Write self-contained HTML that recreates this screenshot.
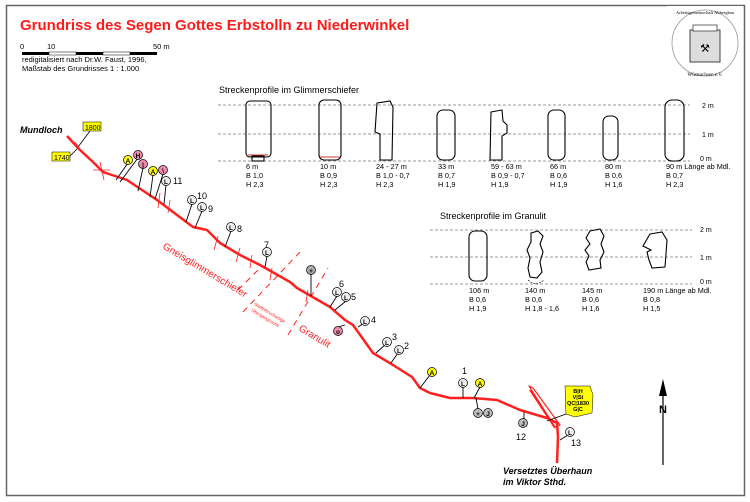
<!DOCTYPE html>
<html><head><meta charset="utf-8"><style>
body{margin:0;background:#fff}
svg{display:block;font-family:"Liberation Sans",Arial,sans-serif}
</style></head><body>
<svg width="750" height="502" viewBox="0 0 750 502" xmlns="http://www.w3.org/2000/svg">
<rect x="0" y="0" width="750" height="502" fill="#fff"/>
<rect x="6.5" y="5.5" width="738" height="490" fill="none" stroke="#666" stroke-width="1.5"/>
<text x="20" y="30" fill="#ff1a1a" font-size="15" font-weight="bold">Grundriss des Segen Gottes Erbstolln zu Niederwinkel</text>
<text x="20" y="49" font-size="7.5">0</text><text x="47" y="49" font-size="7.5">10</text><text x="153" y="49" font-size="7.5">50 m</text>
<rect x="22" y="52" width="27" height="3" fill="#000"/><rect x="49" y="52" width="27" height="3" fill="#fff" stroke="#000" stroke-width=".5"/>
<rect x="76" y="52" width="27" height="3" fill="#000"/><rect x="103" y="52" width="27" height="3" fill="#fff" stroke="#000" stroke-width=".5"/>
<rect x="130" y="52" width="27" height="3" fill="#000"/>
<text x="22" y="62" font-size="7.5">redigitalisiert nach Dr.W. Faust, 1996,</text>
<text x="22" y="71" font-size="7.5">Maßstab des Grundrisses 1 : 1.000</text>
<!-- seal -->
<rect x="667" y="6" width="76" height="76" fill="#fff"/>
<circle cx="705" cy="43" r="33" fill="none" stroke="#999" stroke-width=".8"/>
<rect x="690" y="30" width="30" height="32" fill="#ddd" stroke="#444" stroke-width="1"/>
<rect x="693" y="25" width="24" height="6" fill="#fff" stroke="#444" stroke-width=".8"/>
<text x="705" y="52" font-size="11" text-anchor="middle">⚒</text>
<text x="705" y="76" font-size="5" text-anchor="middle" font-family="Liberation Serif">Wüstsachsen e.V.</text>
<text x="705" y="14" font-size="4.5" text-anchor="middle" font-family="Liberation Serif">Arbeitsgemeinschaft Altbergbau</text>
<!-- Glimmerschiefer profiles -->
<text x="219" y="93" font-size="9">Streckenprofile im Glimmerschiefer</text>
<g stroke="#777" stroke-dasharray="3,2" stroke-width=".8">
<line x1="218" y1="105" x2="690" y2="105"/><line x1="218" y1="134" x2="690" y2="134"/><line x1="218" y1="161" x2="690" y2="161"/>
<line x1="430" y1="230" x2="692" y2="230"/><line x1="430" y1="257" x2="692" y2="257"/><line x1="430" y1="284" x2="692" y2="284"/></g>
<g font-size="7"><text x="702" y="108">2 m</text><text x="702" y="137">1 m</text><text x="700" y="161">0 m</text>
<text x="700" y="232">2 m</text><text x="700" y="260">1 m</text><text x="700" y="284">0 m</text></g>
<g fill="none" stroke="#000" stroke-width="1.1">
<rect x="246" y="101" width="25" height="56" rx="4"/><rect x="252" y="156" width="12" height="5"/>
<rect x="319" y="100" width="22" height="60" rx="5"/>
<path d="M377 103 L390 101 L393 107 L392 160 L380 160 L380 134 L375 132 Z"/>
<rect x="437" y="110" width="18" height="50" rx="6"/>
<path d="M491 112 L502 110 L503 121 L507 125 L507 133 L502 136 L502 160 L490 160 Z"/>
<rect x="548" y="110" width="17" height="50" rx="6"/>
<rect x="603" y="116" width="15" height="44" rx="6"/>
<rect x="665" y="100" width="19" height="61" rx="7"/>
</g>
<line x1="248" y1="155" x2="268" y2="155" stroke="#c33" stroke-width="1"/>
<line x1="320" y1="157" x2="340" y2="157" stroke="#c33" stroke-width="1"/>
<g font-size="7.3">
<text x="246" y="169">6 m</text><text x="246" y="178">B 1,0</text><text x="246" y="187">H 2,3</text>
<text x="320" y="169">10 m</text><text x="320" y="178">B 0,9</text><text x="320" y="187">H 2,3</text>
<text x="376" y="169">24 - 27 m</text><text x="376" y="178">B 1,0 - 0,7</text><text x="376" y="187">H 2,3</text>
<text x="438" y="169">33 m</text><text x="438" y="178">B 0,7</text><text x="438" y="187">H 1,9</text>
<text x="491" y="169">59 - 63 m</text><text x="491" y="178">B 0,9 - 0,7</text><text x="491" y="187">H 1,9</text>
<text x="550" y="169">66 m</text><text x="550" y="178">B 0,6</text><text x="550" y="187">H 1,9</text>
<text x="605" y="169">80 m</text><text x="605" y="178">B 0,6</text><text x="605" y="187">H 1,6</text>
<text x="666" y="169">90 m Länge ab Mdl.</text><text x="666" y="178">B 0,7</text><text x="666" y="187">H 2,3</text>
</g>
<!-- Granulit -->
<text x="440" y="219" font-size="9">Streckenprofile im Granulit</text>
<g fill="none" stroke="#000" stroke-width="1.1">
<rect x="469" y="231" width="18" height="50" rx="6"/>
<path d="M531 233 L538 231 L543 236 L540 244 L543 252 L540 262 L542 272 L537 278 L530 277 L528 268 L530 258 L527 250 L531 242 Z"/>
<path d="M590 231 L600 229 L604 236 L601 244 L604 252 L600 260 L601 268 L589 270 L586 262 L589 256 L585 250 L590 244 L586 238 Z"/>
<path d="M650 234 L662 232 L667 240 L666 254 L665 267 L652 268 L649 260 L647 252 L651 250 L643 246 Z"/>
</g>
<path d="M528 280 Q536 287 544 280" fill="none" stroke="#000" stroke-dasharray="2,1" stroke-width=".6"/>
<g font-size="7.3">
<text x="469" y="293">106 m</text><text x="469" y="302">B 0,6</text><text x="469" y="311">H 1,9</text>
<text x="525" y="293">140 m</text><text x="525" y="302">B 0,6</text><text x="525" y="311">H 1,8 - 1,6</text>
<text x="582" y="293">145 m</text><text x="582" y="302">B 0,6</text><text x="582" y="311">H 1,6</text>
<text x="643" y="293">190 m Länge ab Mdl.</text><text x="643" y="302">B 0,8</text><text x="643" y="311">H 1,5</text>
</g>
<!-- Mundloch -->
<text x="20" y="133" font-size="9" font-weight="bold" font-style="italic">Mundloch</text>
<rect x="83" y="122" width="18" height="9" fill="#ff0" stroke="#000" stroke-width=".5"/><text x="85" y="130" font-size="7">1800</text>
<rect x="52" y="152" width="18" height="9" fill="#ff0" stroke="#000" stroke-width=".5"/><text x="54" y="160" font-size="7">1740</text>
<line x1="78" y1="147" x2="90" y2="131" stroke="#000" stroke-width=".8"/><line x1="70" y1="156" x2="78" y2="148" stroke="#000" stroke-width=".8"/>
<!-- tunnel -->
<g fill="none" stroke="#ff2020" stroke-width="2.5" stroke-linejoin="round">
<path d="M67 136 L80 150 L93 162 L103 172 L127 180 L157 200 L193 227 L207 230 L220 243 L240 255 L260 265 L290 282 L297 288 L330 307 L345 320 L353 325 L373 353 L393 365 L412 377 L420 388 L430 393 L450 398 L473 398 L497 400 L520 410 L547 418 L557 423 L558 437 L557 463"/>
<path d="M530 390 L555 428" stroke-width="1.8"/>
<path d="M529 386 L533 388 L560 425 L555 427 Z" stroke-width="1.2"/>
</g>
<!-- red dashed boundary lines -->
<g stroke="#ff2020" stroke-width="1" stroke-dasharray="6,5">
<line x1="243" y1="312" x2="300" y2="252"/>
<line x1="288" y1="335" x2="328" y2="268"/>
<line x1="238" y1="290" x2="262" y2="266"/>
</g>
<g stroke="#ff2020" stroke-width=".8">
<line x1="100" y1="162" x2="104" y2="180"/><line x1="93" y1="170" x2="110" y2="170"/>
<line x1="75" y1="142" x2="82" y2="152"/><line x1="160" y1="193" x2="158" y2="208"/>
<line x1="170" y1="200" x2="168" y2="213"/><line x1="218" y1="236" x2="214" y2="250"/>
<line x1="240" y1="248" x2="236" y2="262"/><line x1="252" y1="255" x2="250" y2="268"/>
<line x1="272" y1="268" x2="270" y2="280"/><line x1="308" y1="290" x2="306" y2="302"/>
</g>
<text transform="translate(162,248) rotate(31)" fill="#ff2020" font-size="10">Gneisglimmerschiefer</text>
<text transform="translate(298,330) rotate(31)" fill="#ff2020" font-size="10">Granulit</text>
<text transform="translate(254,305) rotate(31)" fill="#ff2020" font-size="4.5">Staffelbruchartige</text>
<text transform="translate(251,311) rotate(31)" fill="#ff2020" font-size="4.5">Übergangszone</text>
<!-- marker leader lines -->
<g stroke="#000" stroke-width=".9">
<line x1="116" y1="180" x2="128" y2="163"/><line x1="120" y1="182" x2="138" y2="158"/>
<line x1="138" y1="191" x2="143" y2="168"/><line x1="150" y1="197" x2="153" y2="175"/>
<line x1="155" y1="199" x2="163" y2="174"/><line x1="164" y1="204" x2="166" y2="185"/>
<line x1="186" y1="222" x2="192" y2="204"/><line x1="195" y1="228" x2="202" y2="211"/>
<line x1="225" y1="247" x2="231" y2="231"/><line x1="265" y1="267" x2="267" y2="256"/>
<line x1="311" y1="296" x2="311" y2="274"/><line x1="330" y1="307" x2="337" y2="296"/>
<line x1="335" y1="310" x2="346" y2="301"/><line x1="345" y1="325" x2="338" y2="327"/>
<line x1="358" y1="327" x2="364" y2="323"/><line x1="376" y1="353" x2="386" y2="344"/>
<line x1="391" y1="363" x2="398" y2="353"/><line x1="420" y1="388" x2="430" y2="375"/>
<line x1="463" y1="398" x2="463" y2="387"/><line x1="474" y1="398" x2="480" y2="387"/>
<line x1="476" y1="398" x2="478" y2="409"/><line x1="524" y1="412" x2="524" y2="419"/>
<line x1="547" y1="421" x2="566" y2="414"/><line x1="560" y1="440" x2="568" y2="435"/>
</g>
<g stroke="#000" stroke-width=".7">
<circle cx="128" cy="160" r="4.5" fill="#ff0"/><circle cx="138" cy="155" r="4.5" fill="#e8a"/>
<circle cx="143" cy="164" r="4.5" fill="#e8a"/><circle cx="153" cy="171" r="4.5" fill="#ff0"/>
<circle cx="163" cy="170" r="4.5" fill="#e8a"/><circle cx="166" cy="181" r="4.5" fill="#eee"/>
<circle cx="192" cy="200" r="4.5" fill="#eee"/><circle cx="202" cy="207" r="4.5" fill="#eee"/>
<circle cx="231" cy="227" r="4.5" fill="#eee"/><circle cx="267" cy="252" r="4.5" fill="#eee"/>
<circle cx="311" cy="270" r="4.5" fill="#aaa"/><circle cx="337" cy="292" r="4.5" fill="#eee"/>
<circle cx="346" cy="297" r="4.5" fill="#eee"/><circle cx="338" cy="331" r="4.5" fill="#e8a"/>
<circle cx="365" cy="321" r="4.5" fill="#eee"/><circle cx="387" cy="342" r="4.5" fill="#eee"/>
<circle cx="399" cy="350" r="4.5" fill="#eee"/><circle cx="432" cy="372" r="4.5" fill="#ff0"/>
<circle cx="463" cy="383" r="4.5" fill="#eee"/><circle cx="480" cy="383" r="4.5" fill="#ff0"/>
<circle cx="478" cy="413" r="4.5" fill="#bbb"/><circle cx="488" cy="413" r="4.5" fill="#bbb"/>
<circle cx="523" cy="423" r="4.5" fill="#bbb"/><circle cx="570" cy="432" r="4.5" fill="#eee"/>
</g>
<g font-size="6.5" font-weight="bold" text-anchor="middle">
<text x="128" y="163">A</text><text x="138" y="158">H</text><text x="143" y="167">|</text><text x="153" y="174">A</text><text x="163" y="173">\</text>
<text x="166" y="184">L</text><text x="192" y="203">L</text><text x="202" y="210">L</text><text x="231" y="230">L</text><text x="267" y="255">L</text>
<text x="311" y="273">+</text><text x="337" y="295">L</text><text x="346" y="300">L</text><text x="338" y="334">o</text>
<text x="365" y="324">L</text><text x="387" y="345">L</text><text x="399" y="353">L</text><text x="432" y="375">A</text>
<text x="463" y="386">L</text><text x="480" y="386">A</text><text x="478" y="416">+</text><text x="488" y="416">J</text><text x="523" y="426">J</text><text x="570" y="435">L</text>
</g>
<g font-size="9">
<text x="173" y="184">11</text><text x="197" y="199">10</text><text x="208" y="212">9</text><text x="237" y="232">8</text>
<text x="264" y="248">7</text><text x="339" y="287">6</text><text x="351" y="300">5</text><text x="371" y="323">4</text>
<text x="392" y="340">3</text><text x="404" y="349">2</text><text x="462" y="374">1</text><text x="516" y="440">12</text><text x="571" y="446">13</text>
</g>
<!-- yellow box -->
<path d="M565 386 L590 386 L593 395 L592 413 L575 417 L566 414 Z" fill="#ff0" stroke="#000" stroke-width=".5"/>
<g font-size="5.5" font-weight="bold" text-anchor="middle"><text x="578" y="393">B|H</text><text x="578" y="399">V|St</text><text x="578" y="405">QC|1830</text><text x="578" y="411">G|C</text></g>
<text x="503" y="474" font-size="9" font-weight="bold" font-style="italic">Versetztes Überhaun</text>
<text x="503" y="485" font-size="9" font-weight="bold" font-style="italic">im Viktor Sthd.</text>
<!-- north arrow -->
<line x1="663" y1="385" x2="663" y2="465" stroke="#000" stroke-width="1.2"/>
<path d="M663 379 L659 396 L667 396 Z" fill="#000"/>
<text x="663" y="413" font-size="11" font-weight="bold" text-anchor="middle">N</text>
</svg>
</body></html>
